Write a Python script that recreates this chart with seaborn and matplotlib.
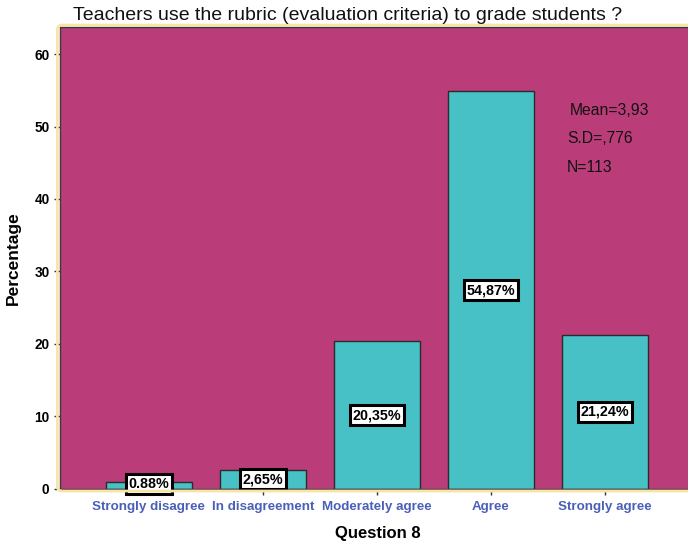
import pandas as pd
import seaborn as sns
import matplotlib.pyplot as plt
from matplotlib.patches import FancyBboxPatch

# chart data
categories = ['Strongly disagree', 'In disagreement', 'Moderately agree', 'Agree', 'Strongly agree']
percentages = [0.88, 2.65, 20.35, 54.87, 21.24]
bar_labels = ['0.88%', '2,65%', '20,35%', '54,87%', '21,24%']
stats_lines = ['Mean=3,93', 'S.D=,776', 'N=113']
y_ticks = [0, 10, 20, 30, 40, 50, 60]

plain = ['Liberation Sans', 'DejaVu Sans']

df = pd.DataFrame({'answer': categories, 'pct': percentages})

fig = plt.figure(figsize=(6.88, 5.45), dpi=100)
ax = fig.add_axes([0.087, 0.103, 0.925, 0.847])
ax.set_facecolor('#BA3D7A')

# yellow rounded frame behind the plot area
frame = FancyBboxPatch((0.0835, 0.099), 0.94, 0.855, boxstyle='round,pad=0,rounding_size=0.008',
                       transform=fig.transFigure, facecolor='none', edgecolor='#F8E4A6', lw=2, zorder=0)
fig.patches.append(frame)

sns.barplot(data=df, x='answer', y='pct', color='#48C1C6', saturation=1, width=0.75,
            edgecolor='#2B2B2B', linewidth=1, ax=ax)

for i, (v, lab) in enumerate(zip(percentages, bar_labels)):
    ax.text(i, max(v / 2, 0.7), lab, ha='center', va='center', fontsize=10.3, fontweight='bold',
            family=plain, zorder=5,
            bbox=dict(boxstyle='square,pad=0.2', facecolor='white', edgecolor='black', lw=2.2))

stats_x = [0.802, 0.797, 0.797]
stats_y = [0.820, 0.758, 0.697]
for line, sx, sy in zip(stats_lines, stats_x, stats_y):
    ax.text(sx, sy, line, transform=ax.transAxes, va='center',
            fontsize=11.3, family=plain, color='#111111')

ax.set_ylim(0, 63.7)
ax.set_xlim(-0.78, 4.8)
ax.set_yticks(y_ticks)
ax.set_yticklabels([str(t) for t in y_ticks], fontsize=9.8, fontweight='bold', family=plain)
ax.set_xticks(range(len(categories)))
ax.set_xticklabels(categories, fontsize=9.6, fontweight='bold', family=plain, color='#4A60B8')
ax.tick_params(axis='both', length=4, width=1, color='#333333', direction='out')
ax.tick_params(axis='x', pad=5)

for s in ax.spines.values():
    s.set_color('#3A3A3A')
    s.set_linewidth(1)

ax.set_xlabel('Question 8', fontsize=12, fontweight='bold', family=plain, labelpad=9)
ax.set_ylabel('Percentage', fontsize=12.5, fontweight='bold', family=plain, labelpad=10)
fig.text(0.106, 0.971, 'Teachers use the rubric (evaluation criteria) to grade students ?',
         fontsize=14, family=plain, color='#111111', va='center')

plt.savefig('out.png', dpi=100)
